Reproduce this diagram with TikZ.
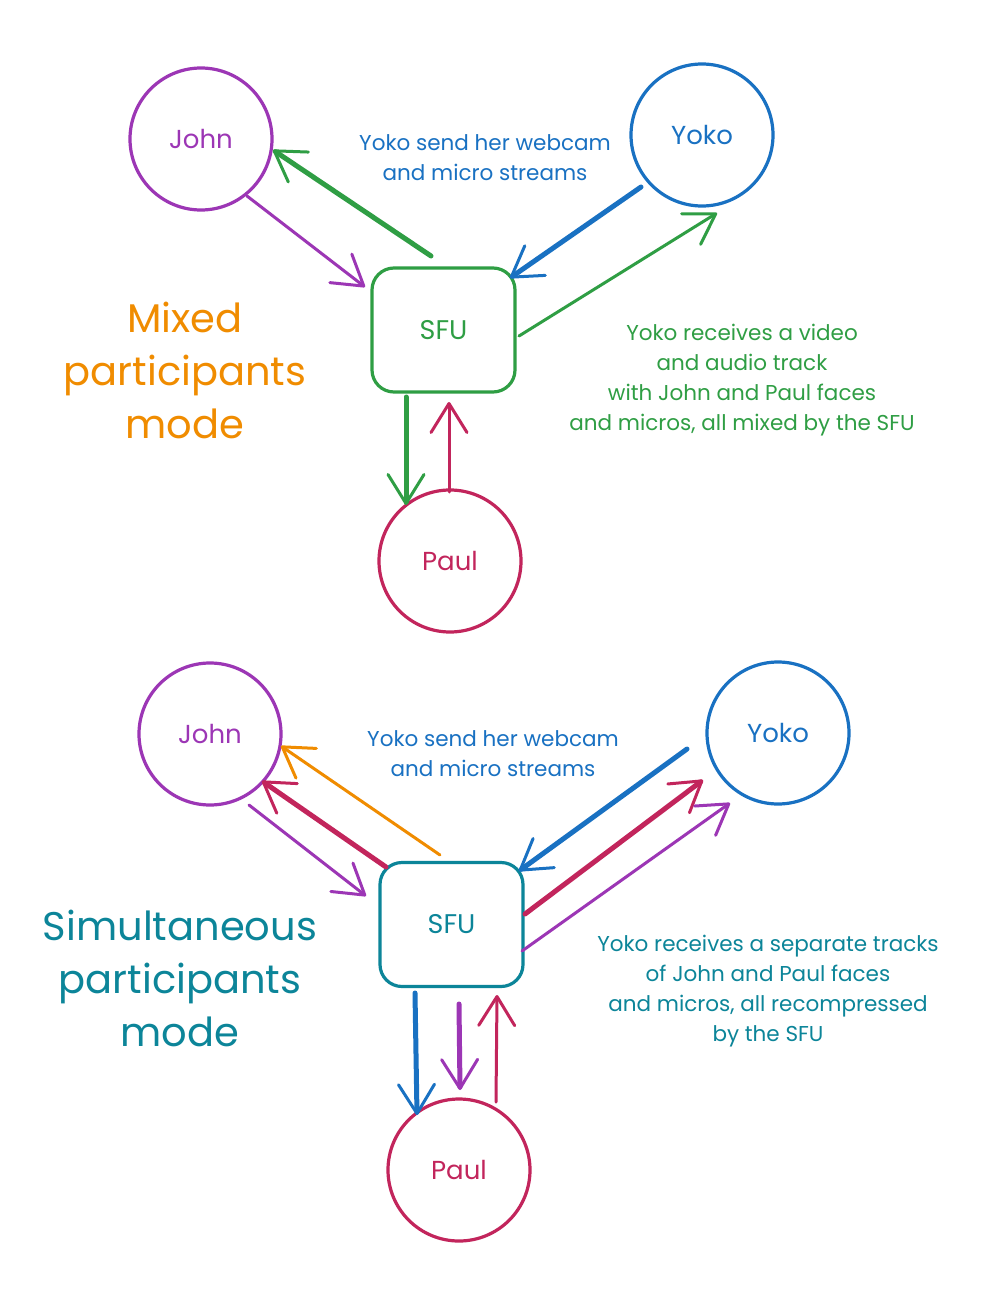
\documentclass[tikz,border=0pt]{standalone}
\usepackage{fontspec}
\setmainfont{Poppins}
\usetikzlibrary{arrows.meta,calc}
\definecolor{cpurple}{HTML}{9C36B5}
\definecolor{cgreen}{HTML}{2F9E44}
\definecolor{cblue}{HTML}{1971C2}
\definecolor{corange}{HTML}{F08C00}
\definecolor{ccrimson}{HTML}{C2255C}
\definecolor{cteal}{HTML}{0C8599}
\tikzset{
  person/.style={circle,line width=3.2pt,minimum size=142pt,inner sep=0pt,font=\fontsize{26}{30}\selectfont},
  sfubox/.style={rectangle,rounded corners=22pt,line width=3.2pt,minimum width=143pt,minimum height=124pt,inner sep=0pt,font=\fontsize{27}{30}\selectfont},
  arr/.style={line width=3pt,line cap=round,-{Straight Barb[length=29pt,width=36pt,line width=3pt,round]}},
  thickarr/.style={arr,line width=5pt},
  lbl/.style={align=center,font=\fontsize{21.5}{30}\selectfont},
  mode/.style={align=center,font=\fontsize{40}{53}\selectfont}
}
\begin{document}
\begin{tikzpicture}[x=1pt,y=-1pt]
\useasboundingbox (0,0) rectangle (985,1297);
\fill[white] (0,0) rectangle (985,1297);
% ---------- top diagram ----------
\node[person,draw=cpurple,text=cpurple] (john1) at (201,139) {John};
\node[person,draw=cblue,text=cblue] (yoko1) at (702,135) {Yoko};
\node[sfubox,draw=cgreen,text=cgreen] (sfu1) at (443.5,330) {SFU};
\node[person,draw=ccrimson,text=ccrimson] (paul1) at (450,561) {Paul};
\node[lbl,text=cblue] (t1) at (485,158) {Yoko send her webcam\\and micro streams};
\node[mode,text=corange] (m1) at (185,370) {Mixed\\participants\\mode};
\node[lbl,text=cgreen] (t2) at (742,380) {Yoko receives a video\\and audio track\\with John and Paul faces\\and micros, all mixed by the SFU};
\draw[arr,cpurple] ($(john1)+(46,57)$) -- ($(sfu1)+(-78.5,-43)$);
\draw[thickarr,cgreen] ($(sfu1)+(-12.5,-74)$) -- ($(john1)+(72,11)$);
\draw[thickarr,cblue] ($(yoko1)+(-61,52)$) -- ($(sfu1)+(66.5,-52)$);
\draw[arr,cgreen] ($(sfu1)+(75.5,6)$) -- ($(yoko1)+(15,78)$);
\draw[thickarr,cgreen] ($(sfu1)+(-37.5,67)$) -- ($(paul1)+(-44,-56)$);
\draw[arr,ccrimson] ($(paul1)+(-1,-69)$) -- ($(sfu1)+(5.5,72)$);
% ---------- bottom diagram ----------
\node[person,draw=cpurple,text=cpurple] (john2) at (210,734) {John};
\node[person,draw=cblue,text=cblue] (yoko2) at (778,733) {Yoko};
\node[sfubox,draw=cteal,text=cteal] (sfu2) at (451.5,924.5) {SFU};
\node[person,draw=ccrimson,text=ccrimson] (paul2) at (459,1170) {Paul};
\node[lbl,text=cblue] (t3) at (493,754) {Yoko send her webcam\\and micro streams};
\node[mode,text=cteal] (m2) at (180,978) {Simultaneous\\participants\\mode};
\node[lbl,text=cteal] (t4) at (768,991) {Yoko receives a separate tracks\\of John and Paul faces\\and micros, all recompressed\\by the SFU};
\draw[arr,cpurple] ($(john2)+(39,71)$) -- ($(sfu2)+(-85.5,-28.5)$);
\draw[thickarr,ccrimson] ($(sfu2)+(-65.5,-57.5)$) -- ($(john2)+(52,47)$);
\draw[arr,corange] ($(sfu2)+(-11.5,-69.5)$) -- ($(john2)+(71,12)$);
\draw[thickarr,cblue] ($(yoko2)+(-91,16)$) -- ($(sfu2)+(67.5,-53.5)$);
\draw[thickarr,ccrimson] ($(sfu2)+(73.5,-10.5)$) -- ($(yoko2)+(-75,47)$);
\draw[arr,cpurple] ($(sfu2)+(70.5,26.5)$) -- ($(yoko2)+(-48,70)$);
\draw[thickarr,cblue] ($(sfu2)+(-36.5,68.5)$) -- ($(paul2)+(-42,-55)$);
\draw[thickarr,cpurple] ($(sfu2)+(7.5,79.5)$) -- ($(paul2)+(1,-80)$);
\draw[arr,ccrimson] ($(paul2)+(37,-68)$) -- ($(sfu2)+(45.5,70.5)$);
\end{tikzpicture}
\end{document}
